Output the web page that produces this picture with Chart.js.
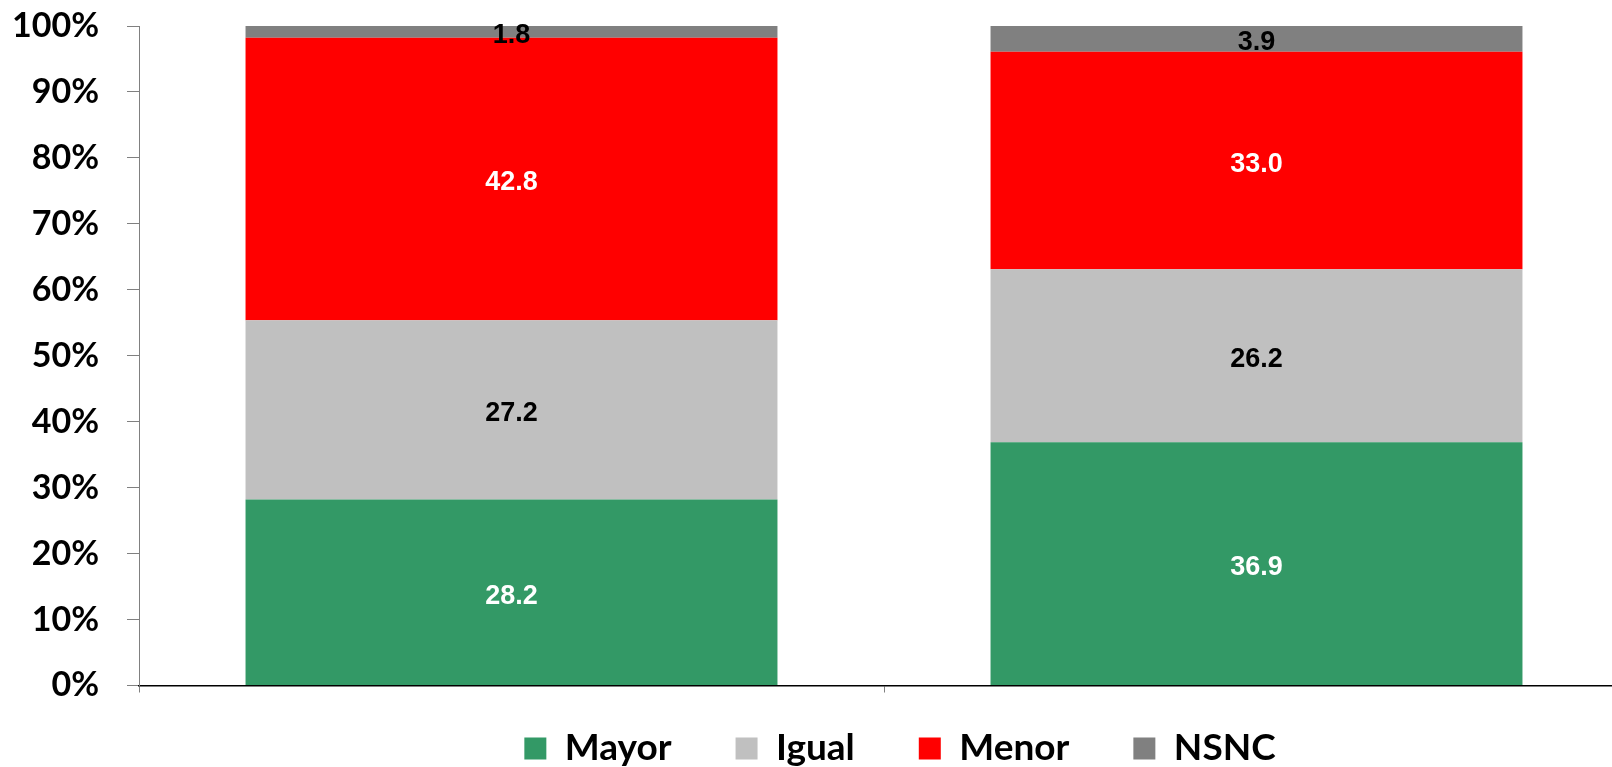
<!DOCTYPE html>
<html>
<head>
<meta charset="utf-8">
<script src="https://cdn.jsdelivr.net/npm/chart.js@4/dist/chart.umd.min.js"></script>
<style>
  html, body { margin: 0; padding: 0; overflow: hidden; background: #fff; }
  #wrap { position: relative; width: 1800px; height: 777px; }
</style>
</head>
<body>
<div id="wrap"><canvas id="c"></canvas></div>
<script>
const categories = ['', ''];
const seriesNames = ['Mayor', 'Igual', 'Menor', 'NSNC'];
const mayor = [28.2, 36.9];
const igual = [27.2, 26.2];
const menor = [42.8, 33.0];
const nsnc  = [1.8, 3.9];
const yTicks = [0, 10, 20, 30, 40, 50, 60, 70, 80, 90, 100];

const colors = ['#339966', '#C0C0C0', '#FF0000', '#808080'];
const labelColors = ['#FFFFFF', '#000000', '#FFFFFF', '#000000'];
const values = [mayor, igual, menor, nsnc];

const valueLabels = {
  id: 'valueLabels',
  afterDatasetsDraw(chart) {
    const ctx = chart.ctx;
    ctx.save();
    ctx.font = 'bold 27px "Liberation Sans", Arial, sans-serif';
    ctx.textAlign = 'center';
    ctx.textBaseline = 'middle';
    chart.data.datasets.forEach((ds, di) => {
      const meta = chart.getDatasetMeta(di);
      meta.data.forEach((el, i) => {
        const p = el.getProps(['x', 'y', 'base'], true);
        ctx.fillStyle = labelColors[di];
        ctx.fillText(ds.data[i].toFixed(1), p.x, (p.y + p.base) / 2 + 4);
      });
    });
    ctx.restore();
  }
};

new Chart(document.getElementById('c'), {
  type: 'bar',
  data: {
    labels: categories,
    datasets: seriesNames.map((n, i) => ({
      label: n,
      data: values[i],
      backgroundColor: colors[i],
      borderWidth: 0,
      categoryPercentage: 1,
      barPercentage: 0.714
    }))
  },
  options: {
    responsive: true,
    maintainAspectRatio: false,
    animation: false,
    layout: { padding: { left: 14, right: 14, top: 26, bottom: 0 } },
    scales: {
      x: {
        stacked: true,
        offset: true,
        grid: { display: true, drawOnChartArea: false, drawTicks: true, tickLength: 7, color: '#808080', offset: true },
        border: { display: true, color: '#000000', width: 1.5 },
        ticks: { display: false }
      },
      y: {
        stacked: true,
        min: 0,
        max: 100,
        afterFit: s => { s.width = 125; s.paddingTop = 0; s.paddingBottom = 0; },
        afterBuildTicks: s => { s.ticks = yTicks.map(v => ({ value: v })); },
        grid: { display: true, drawOnChartArea: false, drawTicks: true, tickLength: 12, color: '#808080' },
        border: { display: true, color: '#808080', width: 1 },
        ticks: {
          padding: 28,
          color: '#000000',
          font: { family: 'Lato', weight: 'bold', size: 34 },
          callback: v => v + '%'
        }
      },
      yPad: {
        type: 'linear',
        position: 'right',
        afterFit: s => { s.width = 157; s.paddingTop = 0; s.paddingBottom = 0; },
        grid: { display: false, drawTicks: false },
        border: { display: false },
        ticks: { display: false }
      }
    },
    plugins: {
      tooltip: { enabled: false },
      legend: {
        position: 'bottom',
        labels: {
          boxWidth: 22,
          boxHeight: 22,
          padding: 64,
          color: '#000000',
          font: { family: 'Lato', weight: 'bold', size: 37 }
        },
        title: { display: true, text: '', padding: { top: -36.5, bottom: 0 }, font: { size: 10, lineHeight: 1 } }
      }
    }
  },
  plugins: [valueLabels]
});
</script>
</body>
</html>
